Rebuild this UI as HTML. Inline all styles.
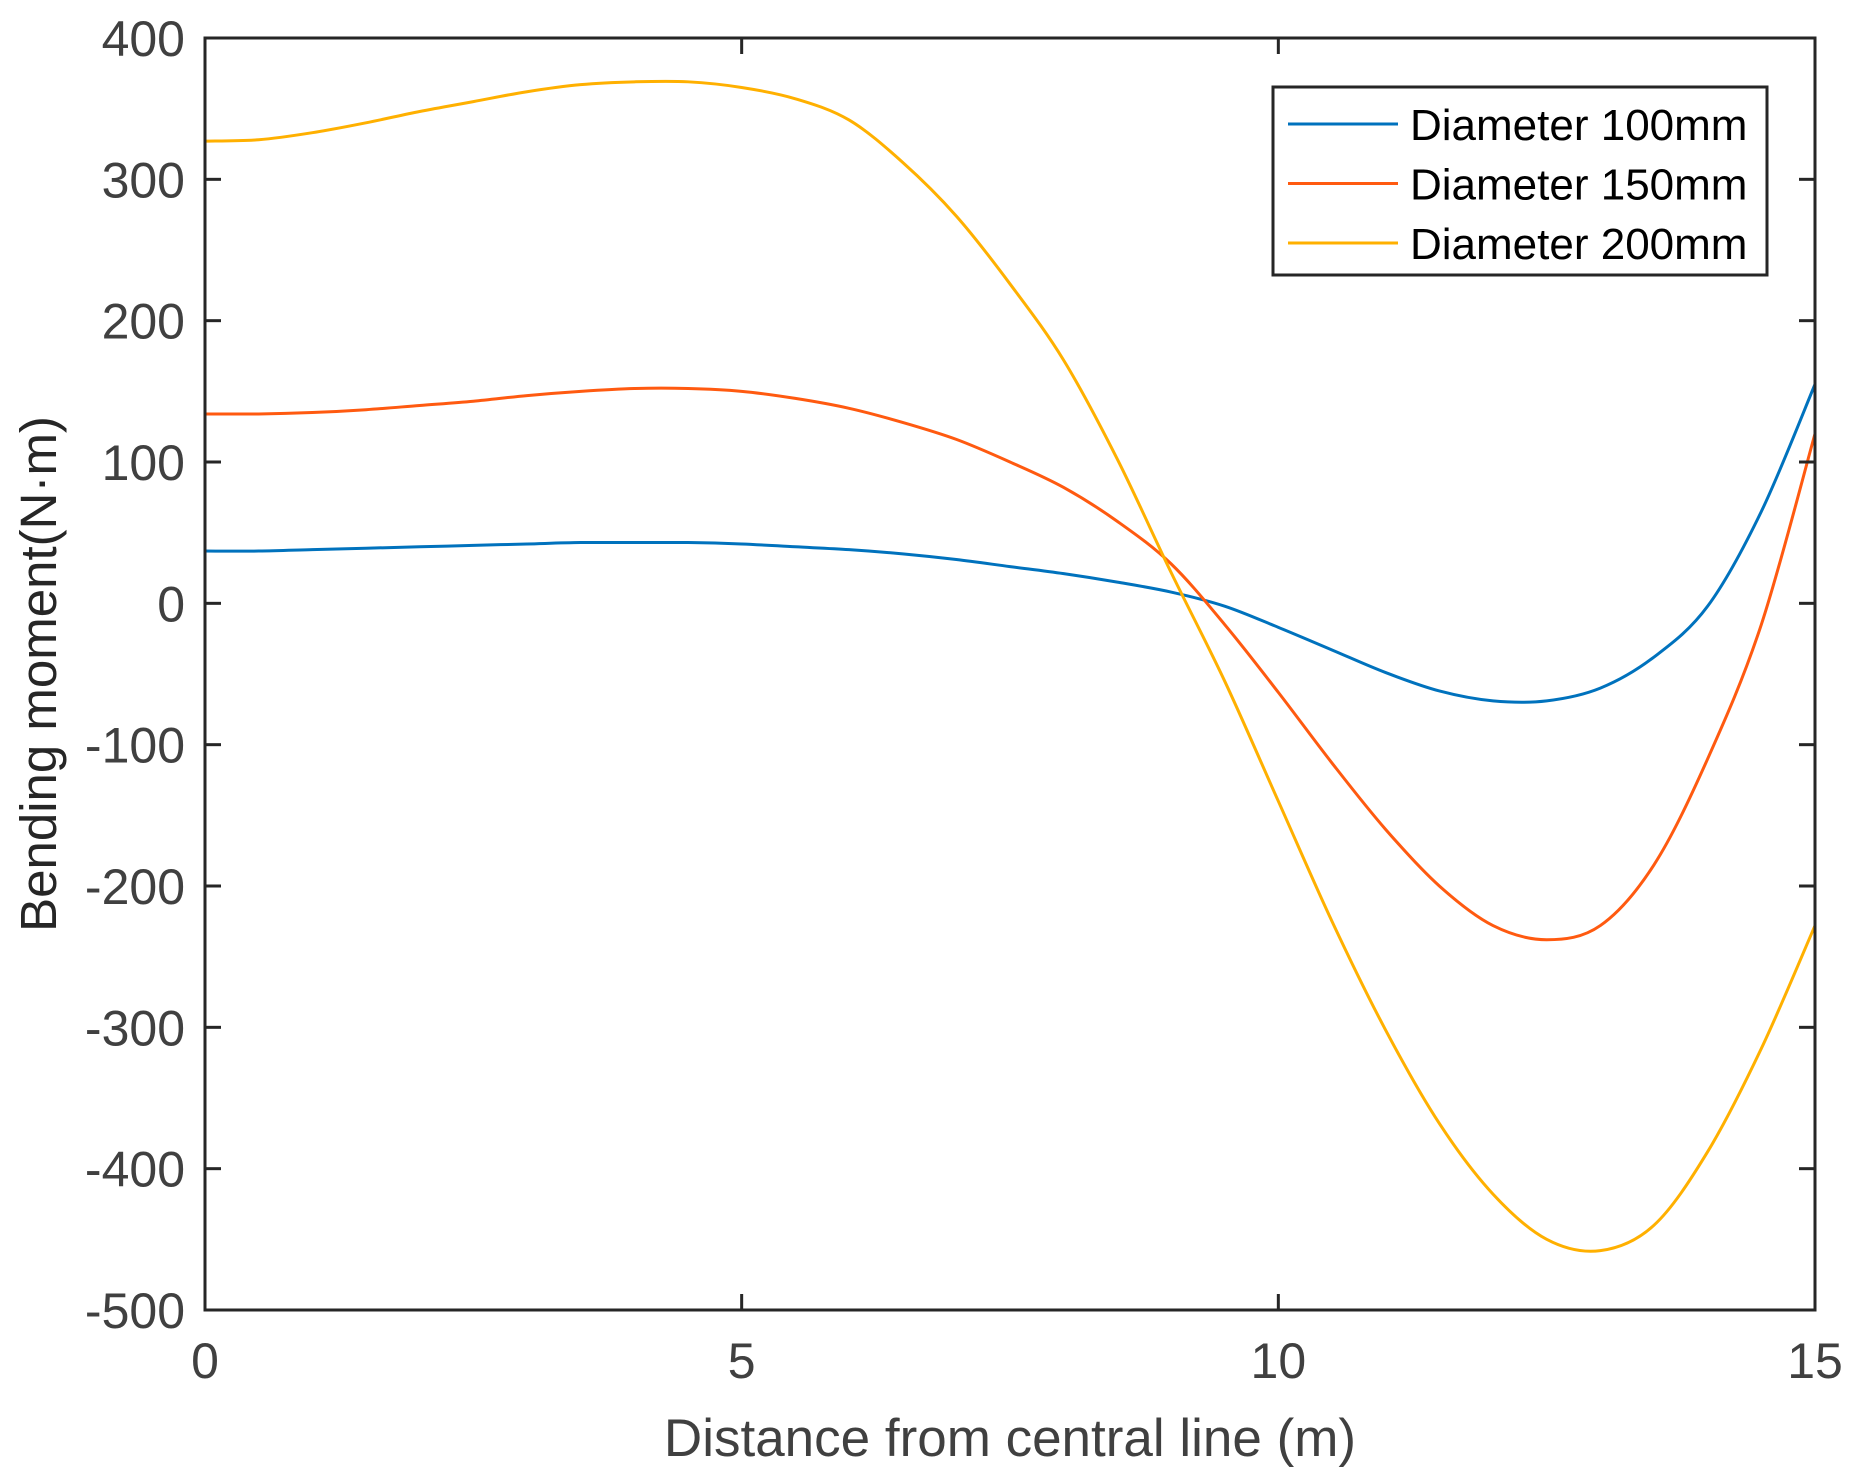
<!DOCTYPE html>
<html><head><meta charset="utf-8"><style>
body{margin:0;background:#fff;}
svg{display:block;font-family:"Liberation Sans",Arial,sans-serif;}
</style></head><body>
<svg id="chart" width="1855" height="1475">
<g id="series"></g>
<g id="axes"></g>
</svg>
<script>
const xTicks=[0,5,10,15];
const yTicks=[400,300,200,100,0,-100,-200,-300,-400,-500];
const xs=[0,0.5,1,1.5,2,2.5,3,3.5,4,4.5,5,5.5,6,6.5,7,7.5,8,8.5,9,9.5,10,10.5,11,11.5,12,12.5,13,13.5,14,14.5,15];
const d100=[37,37,38,39,40,41,42,43,43,43,42,40,38,35,31,26,21,15,8,-2,-17,-33,-49,-62,-69,-69,-60,-38,-2,65,155];
const d150=[134,134,135,137,140,143,147,150,152,152,150,145,138,128,116,100,82,58,28,-15,-63,-113,-160,-200,-228,-238,-228,-185,-110,-15,120];
const d200=[327,328,333,340,348,355,362,367,369,369,365,357,342,312,274,226,172,102,22,-55,-140,-225,-302,-368,-418,-450,-458,-440,-388,-315,-228];
const names=["Diameter 100mm","Diameter 150mm","Diameter 200mm"];
const colors=["#0072BD","#FF5a10","#FFB000"];

const L=205,R=1815,T=38,B=1310;
const sx=v=>L+(v-0)/15*(R-L);
const sy=v=>T+(400-v)/900*(B-T);
const NS="http://www.w3.org/2000/svg";
function mk(tag,attrs,parent){const e=document.createElementNS(NS,tag);for(const k in attrs)e.setAttribute(k,attrs[k]);parent.appendChild(e);return e;}
const sg=document.getElementById('series');
const ax=document.getElementById('axes');

function pathFor(ys){
  const p=xs.map((x,i)=>[sx(x),sy(ys[i])]);
  let d="M"+p[0][0]+","+p[0][1];
  for(let i=0;i<p.length-1;i++){
    const p0=p[Math.max(i-1,0)],p1=p[i],p2=p[i+1],p3=p[Math.min(i+2,p.length-1)];
    const c1=[p1[0]+(p2[0]-p0[0])/6,p1[1]+(p2[1]-p0[1])/6];
    const c2=[p2[0]-(p3[0]-p1[0])/6,p2[1]-(p3[1]-p1[1])/6];
    d+=" C"+c1+" "+c2+" "+p2;
  }
  return d;
}
const allSeries=[d100,d150,d200];
const seriesNames=["series-100mm","series-150mm","series-200mm"];
allSeries.forEach((ys,i)=>{
  const el=mk('path',{d:pathFor(ys),fill:'none',stroke:colors[i],'stroke-width':3},sg);
  
  
});

const box=mk('rect',{x:L,y:T,width:R-L,height:B-T,fill:'none',stroke:'#262626','stroke-width':3},ax);



xTicks.forEach(v=>{
  const x=sx(v);
  mk('line',{x1:x,y1:B,x2:x,y2:B-16,stroke:'#262626','stroke-width':3},ax);
  mk('line',{x1:x,y1:T,x2:x,y2:T+16,stroke:'#262626','stroke-width':3},ax);
  const t=mk('text',{x:x,y:B+68,'text-anchor':'middle','font-size':50,fill:'#404040'},ax);
  t.textContent=v;
  
  
});
yTicks.forEach(v=>{
  const y=sy(v);
  mk('line',{x1:L,y1:y,x2:L+16,y2:y,stroke:'#262626','stroke-width':3},ax);
  mk('line',{x1:R,y1:y,x2:R-16,y2:y,stroke:'#262626','stroke-width':3},ax);
  const t=mk('text',{x:L-20,y:y+18,'text-anchor':'end','font-size':50,fill:'#404040'},ax);
  t.textContent=v;
  
  
});
const xt=mk('text',{x:1010,y:1456,'text-anchor':'middle','font-size':53,fill:'#404040'},ax);
xt.textContent="Distance from central line (m)";


const yt=mk('text',{x:0,y:0,'text-anchor':'middle','font-size':51,fill:'#262626',transform:'translate(56,674) rotate(-90)'},ax);
yt.textContent="Bending moment(N·m)";



const lg=mk('g',{},ax);


mk('rect',{x:1273,y:87,width:494,height:188,fill:'#fff',stroke:'#262626','stroke-width':3},lg);
names.forEach((n,i)=>{
  const y=124+i*59.5;
  const ln=mk('line',{x1:1288,y1:y,x2:1398,y2:y,stroke:colors[i],'stroke-width':3},lg);
  
  
  const t=mk('text',{x:1410,y:y+16,'font-size':44,fill:'#000'},lg);
  t.textContent=n;
  
  
});
</script>
</body></html>
